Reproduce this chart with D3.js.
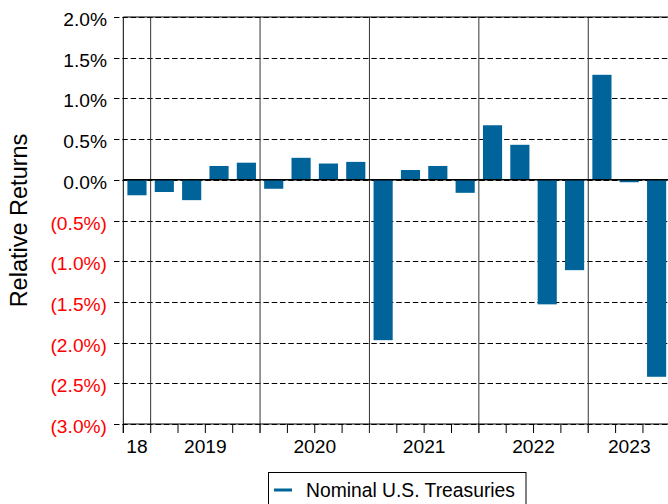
<!DOCTYPE html>
<html>
<head>
<meta charset="utf-8">
<script src="https://cdn.jsdelivr.net/npm/d3@7"></script>
<style>
  html, body { margin: 0; padding: 0; background: #fff; }
  svg { display: block; font-family: "Liberation Sans", Arial, sans-serif; }
</style>
</head>
<body>
<svg id="chart" width="668" height="504"></svg>
<script>
// ---- data ----
const quarters = ["2018Q4",
  "2019Q1","2019Q2","2019Q3","2019Q4",
  "2020Q1","2020Q2","2020Q3","2020Q4",
  "2021Q1","2021Q2","2021Q3","2021Q4",
  "2022Q1","2022Q2","2022Q3","2022Q4",
  "2023Q1","2023Q2","2023Q3"];
const relativeReturns = [-0.19,
  -0.15, -0.25, 0.17, 0.21,
  -0.11, 0.27, 0.20, 0.22,
  -1.97, 0.12, 0.17, -0.16,
  0.67, 0.43, -1.53, -1.11,
  1.29, -0.03, -2.42];
const yearLabels = ["18", "2019", "2020", "2021", "2022", "2023"];
const yearPrefixes = ["2018", "2019", "2020", "2021", "2022", "2023"];
const yTicks = [2.0, 1.5, 1.0, 0.5, 0.0, -0.5, -1.0, -1.5, -2.0, -2.5, -3.0];
const seriesName = "Nominal U.S. Treasuries";
const yTitle = "Relative Returns";

(function () {
// ---- layout ----
const svg = d3.select("#chart");
const left = 123.3, right = 670.3, topY = 17, bottomY = 424;
const barColor = "#00649a";

const x = d3.scaleBand().domain(quarters).range([left, right])
  .paddingInner(0.3).paddingOuter(0.15);
const y = d3.scaleLinear().domain([-3, 2]).range([bottomY, topY]);

const fmt = v => {
  const s = Math.abs(v).toFixed(1) + "%";
  return v < 0 ? "(" + s + ")" : s;
};

// gridlines (dashed, extending left as ticks)
svg.append("g").selectAll("line").data(yTicks).join("line")
  .attr("x1", left - 9.3).attr("x2", 668)
  .attr("y1", d => Math.round(y(d)) + 0.5).attr("y2", d => Math.round(y(d)) + 0.5)
  .attr("stroke", "#000").attr("stroke-width", 1.1)
  .attr("stroke-dasharray", "5.5,2.8");

// year groups
const step = x.step();
const half = x.paddingInner() * step / 2;
const groups = yearPrefixes.map((p, i) => {
  const qs = quarters.filter(q => q.startsWith(p));
  const x0 = x(qs[0]) - half;
  const x1 = x(qs[qs.length - 1]) + x.bandwidth() + half;
  return { label: yearLabels[i], x0, x1 };
});
groups[0].x0 = left;
groups[groups.length - 1].x1 = right;

// x ticks at each band boundary
const boundaries = quarters.map(q => x(q) - half);
boundaries[0] = left;
boundaries.push(right);
svg.append("g").selectAll("line").data(boundaries).join("line")
  .attr("x1", d => d).attr("x2", d => d)
  .attr("y1", bottomY).attr("y2", bottomY + 9)
  .attr("stroke", "#000").attr("stroke-width", 1);

// year separators
svg.append("g").selectAll("line").data(groups.slice(1)).join("line")
  .attr("x1", d => d.x0).attr("x2", d => d.x0)
  .attr("y1", topY).attr("y2", bottomY + 9)
  .attr("stroke", "#333").attr("stroke-width", 1);

// bars
svg.append("g").selectAll("rect").data(quarters).join("rect")
  .attr("x", d => x(d))
  .attr("width", x.bandwidth())
  .attr("y", (d, i) => y(Math.max(0, relativeReturns[i])))
  .attr("height", (d, i) => Math.abs(y(relativeReturns[i]) - y(0)))
  .attr("fill", barColor);

// axes / frame
svg.append("line").attr("x1", left).attr("x2", 668).attr("y1", y(0)).attr("y2", y(0))
  .attr("stroke", "#000").attr("stroke-width", 1.6);
svg.append("line").attr("x1", left).attr("x2", 668).attr("y1", topY).attr("y2", topY)
  .attr("stroke", "#000").attr("stroke-width", 1);
svg.append("line").attr("x1", left).attr("x2", 668).attr("y1", bottomY).attr("y2", bottomY)
  .attr("stroke", "#000").attr("stroke-width", 1);
svg.append("line").attr("x1", left).attr("x2", left).attr("y1", topY).attr("y2", bottomY + 9)
  .attr("stroke", "#000").attr("stroke-width", 1);

// y labels
svg.append("g").selectAll("text").data(yTicks).join("text")
  .attr("x", 107).attr("y", d => y(d) + 9)
  .attr("text-anchor", "end")
  .attr("font-size", 19.2)
  .attr("fill", d => d < 0 ? "#ff0000" : "#000")
  .text(fmt);

// x labels
svg.append("g").selectAll("text").data(groups).join("text")
  .attr("x", d => (d.x0 + d.x1) / 2).attr("y", 453)
  .attr("text-anchor", "middle")
  .attr("font-size", 19.2)
  .attr("fill", "#000")
  .text(d => d.label);

// y title
svg.append("text")
  .attr("transform", `translate(27,${(topY + bottomY) / 2}) rotate(-90)`)
  .attr("text-anchor", "middle")
  .attr("font-size", 23.5)
  .attr("fill", "#000")
  .text(yTitle);

// legend
const lg = svg.append("g");
lg.append("rect").attr("x", 268.5).attr("y", 472.5).attr("width", 257.5).attr("height", 50)
  .attr("fill", "#fff").attr("stroke", "#000").attr("stroke-width", 1);
lg.append("line").attr("x1", 274).attr("x2", 292).attr("y1", 490).attr("y2", 490)
  .attr("stroke", barColor).attr("stroke-width", 3);
lg.append("text").attr("x", 306).attr("y", 497).attr("font-size", 19.3).attr("fill", "#000")
  .text(seriesName);
})();
</script>
</body>
</html>
